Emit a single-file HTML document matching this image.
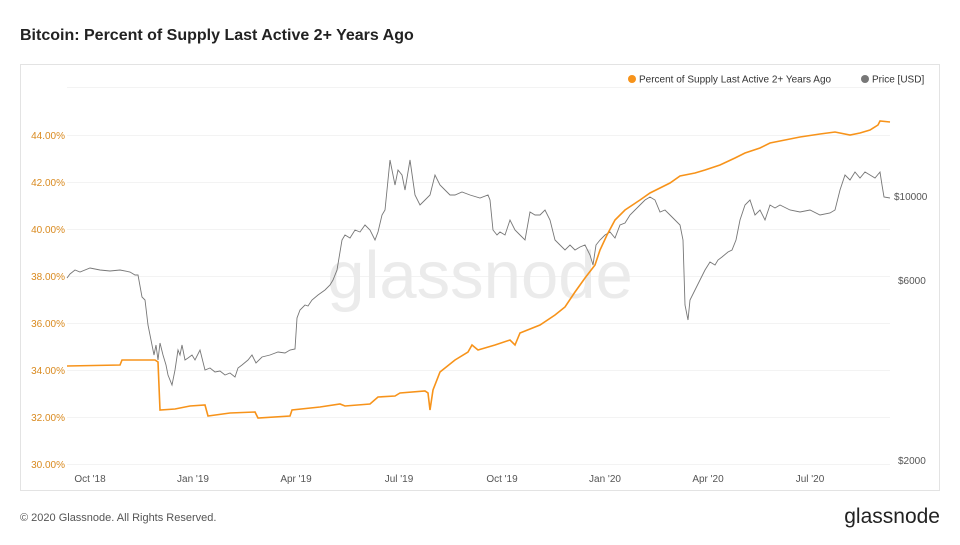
<!DOCTYPE html>
<html><head><meta charset="utf-8"><style>
body{margin:0;background:#fff;width:960px;height:540px;overflow:hidden;font-family:"Liberation Sans",sans-serif;}
</style></head><body>
<svg width="960" height="540" xmlns="http://www.w3.org/2000/svg" font-family="Liberation Sans, sans-serif">
<text x="20" y="40" font-size="16" fill="#222" font-weight="600">Bitcoin: Percent of Supply Last Active 2+ Years Ago</text>
<rect x="20.5" y="64.5" width="919" height="426" fill="#fff" stroke="#e3e3e3"/>
<g stroke="#f3f3f3" stroke-width="1">
<line x1="67" x2="890" y1="87.5" y2="87.5"/><line x1="67" x2="890" y1="135.5" y2="135.5"/>
<line x1="67" x2="890" y1="182.5" y2="182.5"/><line x1="67" x2="890" y1="229.5" y2="229.5"/>
<line x1="67" x2="890" y1="276.5" y2="276.5"/><line x1="67" x2="890" y1="323.5" y2="323.5"/>
<line x1="67" x2="890" y1="370.5" y2="370.5"/><line x1="67" x2="890" y1="417.5" y2="417.5"/>
<line x1="67" x2="890" y1="464.5" y2="464.5"/>
</g>
<text x="480" y="298" font-size="67" fill="#ebebeb" text-anchor="middle">glassnode</text>
<g font-size="10" fill="#d98a1f" text-anchor="end">
<text x="65" y="139">44.00%</text><text x="65" y="186">42.00%</text><text x="65" y="233">40.00%</text>
<text x="65" y="280">38.00%</text><text x="65" y="327">36.00%</text><text x="65" y="374">34.00%</text>
<text x="65" y="421">32.00%</text><text x="65" y="468">30.00%</text>
</g>
<g font-size="10" fill="#555">
<text x="894" y="200">$10000</text><text x="898" y="284">$6000</text><text x="898" y="464">$2000</text>
</g>
<g font-size="10" fill="#555" text-anchor="middle">
<text x="90" y="482">Oct '18</text><text x="193" y="482">Jan '19</text><text x="296" y="482">Apr '19</text>
<text x="399" y="482">Jul '19</text><text x="502" y="482">Oct '19</text><text x="605" y="482">Jan '20</text>
<text x="708" y="482">Apr '20</text><text x="810" y="482">Jul '20</text>
</g>
<circle cx="632" cy="79" r="4" fill="#f7931a"/>
<text x="639" y="82.5" font-size="10" fill="#333">Percent of Supply Last Active 2+ Years Ago</text>
<circle cx="865" cy="79" r="4" fill="#777"/>
<text x="872" y="82.5" font-size="10" fill="#333">Price [USD]</text>
<polyline fill="none" stroke="#777" stroke-width="0.9" points="67,278 70,274 75,270 80,272 90,268 100,270 110,271 120,270 130,272 135,275 138,275 142,297 145,300 148,325 150,335 152,345 154,355 156,345 158,360 160,343 163,355 166,365 168,375 172,385 175,370 178,350 180,355 182,345 185,360 188,358 192,355 195,360 200,350 205,370 210,368 215,372 220,371 225,375 230,373 235,377 238,368 242,365 248,360 252,355 256,363 262,357 270,355 278,352 285,353 290,350 295,349 297,318 300,310 305,305 308,306 312,300 318,295 325,290 330,285 333,280 337,270 342,240 345,235 350,238 355,230 360,232 365,225 370,230 375,240 378,232 382,215 385,210 390,160 395,185 398,170 402,175 405,190 410,160 415,195 420,205 425,200 430,195 435,175 440,185 445,190 450,195 455,195 462,192 470,195 480,198 488,195 490,200 493,230 497,235 500,232 505,235 510,220 515,230 520,235 525,240 530,212 535,215 540,215 545,210 550,220 555,240 560,245 565,250 570,245 575,250 580,247 585,245 590,255 593,265 596,245 600,240 605,235 610,232 615,238 620,225 625,223 630,215 635,210 640,205 645,200 650,197 655,200 660,212 665,210 670,215 675,220 680,225 683,240 685,305 688,320 690,300 695,290 700,280 705,270 710,262 715,265 718,260 722,257 728,252 732,250 736,240 740,220 745,205 750,200 755,215 760,210 765,220 770,205 775,208 780,205 790,210 800,212 810,210 820,215 830,213 835,210 840,190 845,175 850,180 855,172 860,178 865,172 870,175 875,178 880,172 882,185 884,197 890,198"/>
<polyline fill="none" stroke="#f7931a" stroke-width="1.6" points="67,366 120,365 122,360 155,360 158,362 160,410 175,409 190,406 205,405 208,416 230,413 255,412 258,418 290,416 292,410 320,407 340,404 345,406 370,404 378,397 395,396 400,393 425,391 428,393 430,410 433,390 440,372 455,360 468,352 472,345 478,350 495,345 510,340 515,345 520,333 540,325 555,315 565,307 575,292 585,278 595,265 600,250 607,235 615,220 625,210 640,200 650,193 660,188 670,183 680,176 695,173 705,170 720,165 735,158 745,153 760,148 770,143 780,141 800,137 820,134 835,132 850,135 860,133 870,130 878,125 880,121 890,122"/>
<text x="20" y="521" font-size="11" fill="#555">© 2020 Glassnode. All Rights Reserved.</text>
<text x="940" y="523" font-size="21" fill="#222" text-anchor="end">glassnode</text>
</svg>
</body></html>
